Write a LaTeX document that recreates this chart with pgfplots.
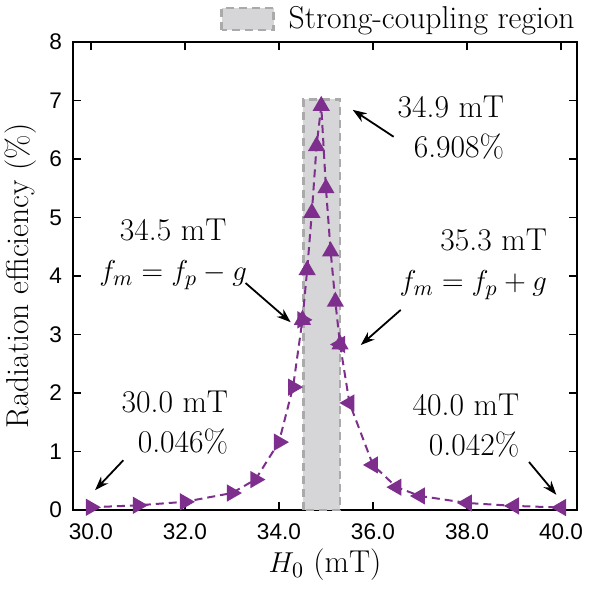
\documentclass[border=0pt]{standalone}
\usepackage{fontspec}
\usepackage{pgfplots}
\pgfplotsset{compat=1.18}
\usetikzlibrary{arrows.meta}
\newfontfamily\arialfont{Liberation Sans}
\definecolor{purp}{HTML}{7E2F8E}
\definecolor{regfill}{HTML}{D6D5D7}
\definecolor{regdraw}{HTML}{AAAAAA}
\newcommand{\labfont}{\fontsize{15.8}{20}\selectfont}
\newcommand{\tickfont}{\arialfont\fontsize{11.3}{12}\selectfont}
\pgfplotsset{regionleg/.style={legend image code/.code={\draw[##1] (0pt,-5.5pt) rectangle (26pt,5.5pt);}}}
\begin{document}
\begin{tikzpicture}
\begin{axis}[
  scale only axis, width=252pt, height=234pt,
  xmin=29.62, xmax=40.34, ymin=0, ymax=8,
  xtick={30,32,34,36,38,40}, ytick={0,1,2,3,4,5,6,7,8},
  /pgf/number format/assume math mode=true,
  xticklabel={\pgfmathprintnumber[fixed,fixed zerofill,precision=1,assume math mode=true]{\tick}},
  yticklabel={\pgfmathprintnumber[fixed,precision=0,assume math mode=true]{\tick}},
  ticklabel style={font=\tickfont},
  xticklabel style={yshift=-3.3pt},
  yticklabel style={xshift=-2pt},
  tick align=inside, major tick length=4pt,
  tick style={line width=0.8pt, black},
  axis line style={line width=1pt, black},
  xlabel={$H_0$ (mT)}, ylabel={Radiation efficiency (\%)},
  every axis x label/.style={at={(axis description cs:0.5,-0.1175)}, anchor=center, font=\labfont},
  every axis y label/.style={at={(axis description cs:-0.104,0.5)}, rotate=90, anchor=center, font=\labfont},
  legend style={at={(1.004,1.049)}, anchor=east, draw=none, fill=none, font=\labfont, inner sep=0pt,
    /tikz/every odd column/.append style={column sep=5pt}},
  legend cell align=left,
  clip=false,
]
\addplot[fill=regfill, draw=regdraw, line width=1.2pt, dash pattern=on 4pt off 2.5pt, regionleg]
  coordinates {(34.52,0) (34.52,7.02) (35.3,7.02) (35.3,0)} -- cycle;
\addlegendentry{Strong-coupling region}
\addplot[purp, line width=1pt, dash pattern=on 4pt off 2.5pt, mark=triangle*, mark size=4pt,
  mark options={solid, fill=purp, rotate=-90}, forget plot]
  coordinates {(30,0.046)(31,0.08)(32,0.14)(33,0.29)(33.5,0.52)(34,1.16)(34.3,2.1)(34.5,3.25)};
\addplot[purp, line width=1pt, dash pattern=on 4pt off 2.5pt, mark=triangle*, mark size=4pt,
  mark options={solid, fill=purp}, forget plot]
  coordinates {(34.5,3.25)(34.6,4.1)(34.7,5.08)(34.8,6.22)(34.9,6.908)(35.0,5.5)(35.1,4.42)(35.2,3.56)(35.3,2.83)};
\addplot[purp, line width=1pt, dash pattern=on 4pt off 2.5pt, mark=triangle*, mark size=4pt,
  mark options={solid, fill=purp, rotate=90}, forget plot]
  coordinates {(35.3,2.83)(35.5,1.83)(36,0.77)(36.5,0.39)(37,0.24)(38,0.12)(39,0.07)(40,0.042)};
% annotations
\node[font=\labfont, align=right, anchor=east] at (axis cs:38.94,6.53) {34.9 mT\\6.908\%};
\draw[-{Stealth[length=7pt,width=5pt]}, line width=0.9pt] (axis cs:36.44,6.38) -- (axis cs:35.57,6.84);
\node[font=\labfont, align=center] at (axis cs:31.75,4.37) {34.5 mT\\$f_m=f_p-g$};
\draw[-{Stealth[length=7pt,width=5pt]}, line width=0.9pt] (axis cs:33.29,3.88) -- (axis cs:34.25,3.21);
\node[font=\labfont, align=right, anchor=east] at (axis cs:39.85,4.2) {35.3 mT\\$f_m=f_p+g$};
\draw[-{Stealth[length=7pt,width=5pt]}, line width=0.9pt] (axis cs:36.59,3.42) -- (axis cs:35.74,2.82);
\node[font=\labfont, align=right, anchor=east] at (axis cs:33.07,1.49) {30.0 mT\\0.046\%};
\draw[-{Stealth[length=7pt,width=5pt]}, line width=0.9pt] (axis cs:30.69,0.85) -- (axis cs:30.09,0.34);
\node[font=\labfont, align=right, anchor=east] at (axis cs:39.26,1.45) {40.0 mT\\0.042\%};
\draw[-{Stealth[length=7pt,width=5pt]}, line width=0.9pt] (axis cs:39.32,0.82) -- (axis cs:39.9,0.26);
\end{axis}
\pgfresetboundingbox
\path ([shift={(-36.5pt,-40.5pt)}]current axis.south west) rectangle ([shift={(6pt,21pt)}]current axis.north east);
\end{tikzpicture}
\end{document}
